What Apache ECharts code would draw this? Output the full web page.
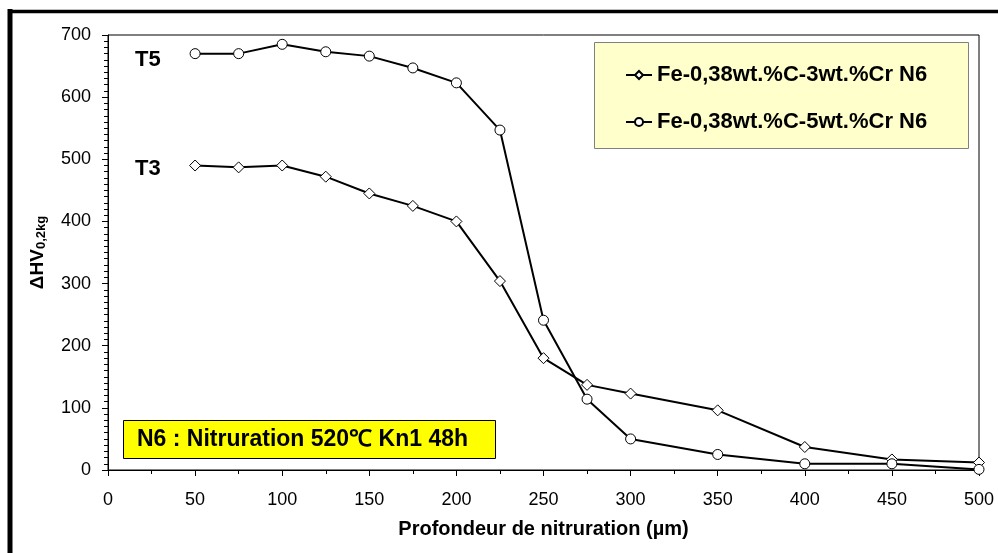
<!DOCTYPE html>
<html>
<head>
<meta charset="utf-8">
<title>Profil de dureté N6</title>
<script src="https://cdn.jsdelivr.net/npm/echarts@6/dist/echarts.min.js"></script>
<style>
  html, body { margin: 0; padding: 0; background: #fff; }
  #main { width: 998px; height: 553px; }
</style>
</head>
<body>
<div id="main"></div>
<script>
// profondeur (µm)
var depth = [50, 75, 100, 125, 150, 175, 200, 225, 250, 275, 300, 350, 400, 450, 500];
// ΔHV0,2kg - Fe-0,38C-3Cr (T3)
var hv3Cr = [490, 487, 490, 472, 445, 425, 400, 304, 180, 137, 123, 96, 37, 17, 12];
// ΔHV0,2kg - Fe-0,38C-5Cr (T5)
var hv5Cr = [670, 670, 685, 673, 666, 647, 623, 547, 241, 114, 50, 25, 10, 10, 1];

var seriesNames = ['Fe-0,38wt.%C-3wt.%Cr N6', 'Fe-0,38wt.%C-5wt.%Cr N6'];
var xTicks = [0, 50, 100, 150, 200, 250, 300, 350, 400, 450, 500];
var yTicks = [0, 100, 200, 300, 400, 500, 600, 700];

var FONT = 'Liberation Sans, Arial, sans-serif';

function pairs(xs, ys) {
  var out = [];
  for (var i = 0; i < xs.length; i++) {
    out.push([xs[i], ys[i]]);
  }
  return out;
}

var chart = echarts.init(document.getElementById('main'), null, { renderer: 'canvas' });

var option = {
  animation: false,
  backgroundColor: '#fff',
  grid: {
    left: 108,
    right: 19,
    top: 35,
    bottom: 83,
    show: true,
    borderColor: '#000',
    borderWidth: 1
  },
  legend: {
    data: seriesNames,
    orient: 'vertical',
    left: 620,
    top: 59,
    itemGap: 25,
    itemWidth: 26,
    itemHeight: 10,
    z: 10,
    textStyle: {
      fontFamily: FONT,
      fontWeight: 'bold',
      fontSize: 22,
      color: '#000'
    }
  },
  xAxis: {
    type: 'value',
    min: xTicks[0],
    max: xTicks[xTicks.length - 1],
    interval: 50,
    name: 'Profondeur de nitruration (µm)',
    nameLocation: 'middle',
    nameGap: 49,
    nameTextStyle: { fontFamily: FONT, fontWeight: 'bold', fontSize: 20, color: '#000' },
    axisLine: { lineStyle: { color: '#000', width: 1 } },
    axisTick: { show: true, length: 6, lineStyle: { color: '#000' } },
    minorTick: { show: true, splitNumber: 2, length: 4, lineStyle: { color: '#000' } },
    splitLine: { show: false },
    axisLabel: { fontFamily: FONT, fontSize: 18, color: '#000', margin: 21 }
  },
  yAxis: {
    type: 'value',
    min: yTicks[0],
    max: yTicks[yTicks.length - 1],
    interval: 100,
    name: '{a|ΔHV}{b|0,2kg}',
    nameLocation: 'middle',
    nameGap: 60,
    nameTextStyle: {
      rich: {
        a: { fontFamily: FONT, fontWeight: 'bold', fontSize: 19, color: '#000' },
        b: { fontFamily: FONT, fontWeight: 'bold', fontSize: 13, color: '#000', padding: [8, 0, 0, 0] }
      }
    },
    axisLine: { show: true, lineStyle: { color: '#000', width: 1 } },
    axisTick: { show: true, length: 6, lineStyle: { color: '#000' } },
    minorTick: { show: true, splitNumber: 10, length: 4, lineStyle: { color: '#000' } },
    splitLine: { show: false },
    axisLabel: { fontFamily: FONT, fontSize: 18, color: '#000', margin: 17 }
  },
  graphic: [
    // cadre noir (haut + gauche)
    { type: 'line', z: 100, shape: { x1: 8, y1: 11.5, x2: 998, y2: 11.5 }, style: { stroke: '#000', lineWidth: 3.5 } },
    { type: 'line', z: 100, shape: { x1: 10, y1: 9, x2: 10, y2: 553 }, style: { stroke: '#000', lineWidth: 5 } },
    // fond de la légende
    { type: 'rect', z: 1, shape: { x: 594.5, y: 42.5, width: 374, height: 106 }, style: { fill: '#FFFFCC', stroke: '#808080', lineWidth: 1 } },
    // encadré conditions
    { type: 'rect', z: 5, shape: { x: 123.5, y: 420.5, width: 372, height: 38 }, style: { fill: '#FFFF00', stroke: '#000', lineWidth: 1 } },
    { type: 'text', z: 6, style: { x: 137, y: 440, text: 'N6 : Nitruration 520℃ Kn1 48h', font: 'bold 23px ' + FONT, fill: '#000', verticalAlign: 'middle' } },
    { type: 'text', z: 6, style: { x: 135, y: 60, text: 'T5', font: 'bold 22px ' + FONT, fill: '#000', verticalAlign: 'middle' } },
    { type: 'text', z: 6, style: { x: 135, y: 169, text: 'T3', font: 'bold 22px ' + FONT, fill: '#000', verticalAlign: 'middle' } }
  ],
  series: [{
    name: seriesNames[0],
    type: 'line',
    data: pairs(depth, hv3Cr),
    symbol: 'diamond',
    symbolSize: 11,
    z: 3,
    lineStyle: { color: '#000', width: 2 },
    itemStyle: { color: '#fff', borderColor: '#000', borderWidth: 1 }
  }, {
    name: seriesNames[1],
    type: 'line',
    data: pairs(depth, hv5Cr),
    symbol: 'circle',
    symbolSize: 10,
    z: 3,
    lineStyle: { color: '#000', width: 2 },
    itemStyle: { color: '#fff', borderColor: '#000', borderWidth: 1 }
  }]
};

chart.setOption(option);
</script>
</body>
</html>
